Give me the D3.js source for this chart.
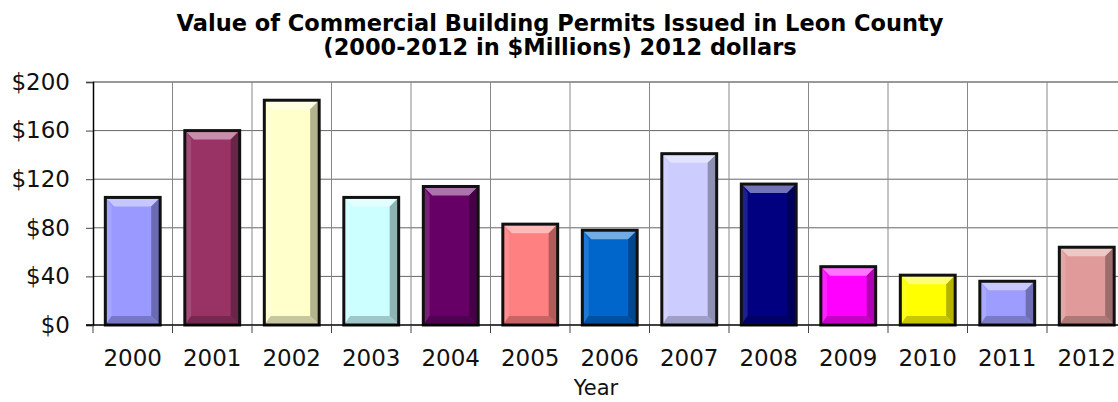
<!DOCTYPE html>
<html>
<head>
<meta charset="utf-8">
<script src="https://cdn.jsdelivr.net/npm/d3@7"></script>
<style>
  html, body { margin: 0; padding: 0; background: #fff; }
  svg { display: block; font-family: "DejaVu Sans", Verdana, sans-serif; }
</style>
</head>
<body>
<svg id="chart" width="1118" height="402"></svg>
<script>
// values (millions of 2012 dollars)
const years = ["2000", "2001", "2002", "2003", "2004", "2005", "2006",
               "2007", "2008", "2009", "2010", "2011", "2012"];
const permitValues = [105, 160, 185, 105, 114, 83, 78, 141, 116, 48, 41, 36, 64];
const barColors = ["#9999ff", "#993366", "#ffffcc", "#ccffff", "#660066", "#ff8080", "#0066cc",
                   "#ccccff", "#000080", "#ff00ff", "#ffff00", "#9d9dff", "#e09a9a"];
const yTicks = [0, 40, 80, 120, 160, 200];
const titleLines = ["Value of Commercial Building Permits Issued in Leon County",
                    "(2000-2012 in $Millions) 2012 dollars"];

const svg = d3.select("#chart");
const plotL = 93, plotR = 1126.5, plotT = 82, plotB = 325;

const x = d3.scaleBand().domain(years).range([plotL, plotR])
  .paddingInner(0.31).paddingOuter(0.155);
const y = d3.scaleLinear().domain([0, 200]).range([plotB, plotT]);

// titel
svg.append("g").selectAll("text")
  .data(titleLines)
  .enter().append("text")
  .attr("x", 560)
  .attr("y", (d, i) => 31 + i * 24)
  .attr("text-anchor", "middle")
  .style("font-weight", "bold")
  .style("font-size", "22.5px")
  .text(d => d);

// gridlines
const grid = svg.append("g");
grid.selectAll(".hgrid")
  .data(yTicks.slice(1))
  .enter().append("line")
  .attr("x1", plotL).attr("x2", plotR)
  .attr("y1", d => y(d)).attr("y2", d => y(d))
  .attr("stroke", d => d === 200 ? "#999" : "#666")
  .attr("stroke-width", d => d === 200 ? 2 : 1);

const step = x.step();
const bounds = years.map((d, i) => plotL + step * i);
grid.selectAll(".vgrid")
  .data(bounds.slice(1))
  .enter().append("line")
  .attr("x1", d => d).attr("x2", d => d)
  .attr("y1", plotT).attr("y2", plotB)
  .attr("stroke", "#888")
  .attr("stroke-width", 1);

// bars with bevel
const bars = svg.append("g").selectAll("g")
  .data(years.map((yr, i) => ({ yr, v: permitValues[i], c: barColors[i] })))
  .enter().append("g");

function poly(pts) { return "M" + pts.map(p => p.join(",")).join("L") + "Z"; }

bars.each(function(d) {
  const gBar = d3.select(this);
  const x0 = x(d.yr), x1 = x0 + x.bandwidth();
  const y0 = y(d.v), y1 = y(0);
  const b = 9;
  const light = d3.interpolateRgb(d.c, "#fff");
  const dark = d3.interpolateRgb(d.c, "#000");

  gBar.append("rect")
    .attr("x", x0).attr("y", y0)
    .attr("width", x1 - x0).attr("height", y1 - y0)
    .attr("fill", d.c);
  // top
  gBar.append("path")
    .attr("d", poly([[x0, y0], [x1, y0], [x1 - b, y0 + b], [x0 + b, y0 + b]]))
    .attr("fill", light(0.45));
  // left
  gBar.append("path")
    .attr("d", poly([[x0, y0], [x0 + b * 0.7, y0 + b], [x0 + b * 0.7, y1 - b], [x0, y1]]))
    .attr("fill", light(0.12));
  // right
  gBar.append("path")
    .attr("d", poly([[x1, y0], [x1 - b, y0 + b], [x1 - b, y1 - b], [x1, y1]]))
    .attr("fill", dark(0.3));
  // bottom
  gBar.append("path")
    .attr("d", poly([[x0, y1], [x0 + b * 0.7, y1 - b], [x1 - b, y1 - b], [x1, y1]]))
    .attr("fill", dark(0.22));
  // outline
  gBar.append("rect")
    .attr("x", x0).attr("y", y0)
    .attr("width", x1 - x0).attr("height", y1 - y0)
    .attr("fill", "none")
    .attr("stroke", "#111")
    .attr("stroke-width", 3);
});

// axes
const yAxis = svg.append("g")
  .attr("transform", `translate(${plotL},0)`)
  .call(d3.axisLeft(y).tickValues(yTicks).tickSize(7).tickPadding(16)
    .tickFormat(d => "$" + d));
yAxis.select(".domain").attr("stroke", "#000").attr("stroke-width", 1.5);
yAxis.selectAll(".tick line").attr("stroke", "#444");
yAxis.selectAll("text").style("font-size", "23px")
  .style("font-family", "DejaVu Sans, Verdana, sans-serif").attr("fill", "#111");

const xAxis = svg.append("g")
  .attr("transform", `translate(0,${plotB})`);
xAxis.append("line")
  .attr("x1", plotL - 7).attr("x2", plotR)
  .attr("stroke", "#000").attr("stroke-width", 1.5);
xAxis.selectAll(".xtick")
  .data(bounds.concat([plotR]))
  .enter().append("line")
  .attr("x1", d => d).attr("x2", d => d)
  .attr("y1", 0).attr("y2", 8)
  .attr("stroke", "#444");
xAxis.selectAll(".xlabel")
  .data(years)
  .enter().append("text")
  .attr("x", d => x(d) + x.bandwidth() / 2)
  .attr("y", 41)
  .attr("text-anchor", "middle")
  .style("font-size", "23px")
  .attr("fill", "#111")
  .text(d => d);

svg.append("text")
  .attr("x", 596).attr("y", 395)
  .attr("text-anchor", "middle")
  .style("font-size", "21px")
  .attr("fill", "#111")
  .text("Year");
</script>
</body>
</html>
